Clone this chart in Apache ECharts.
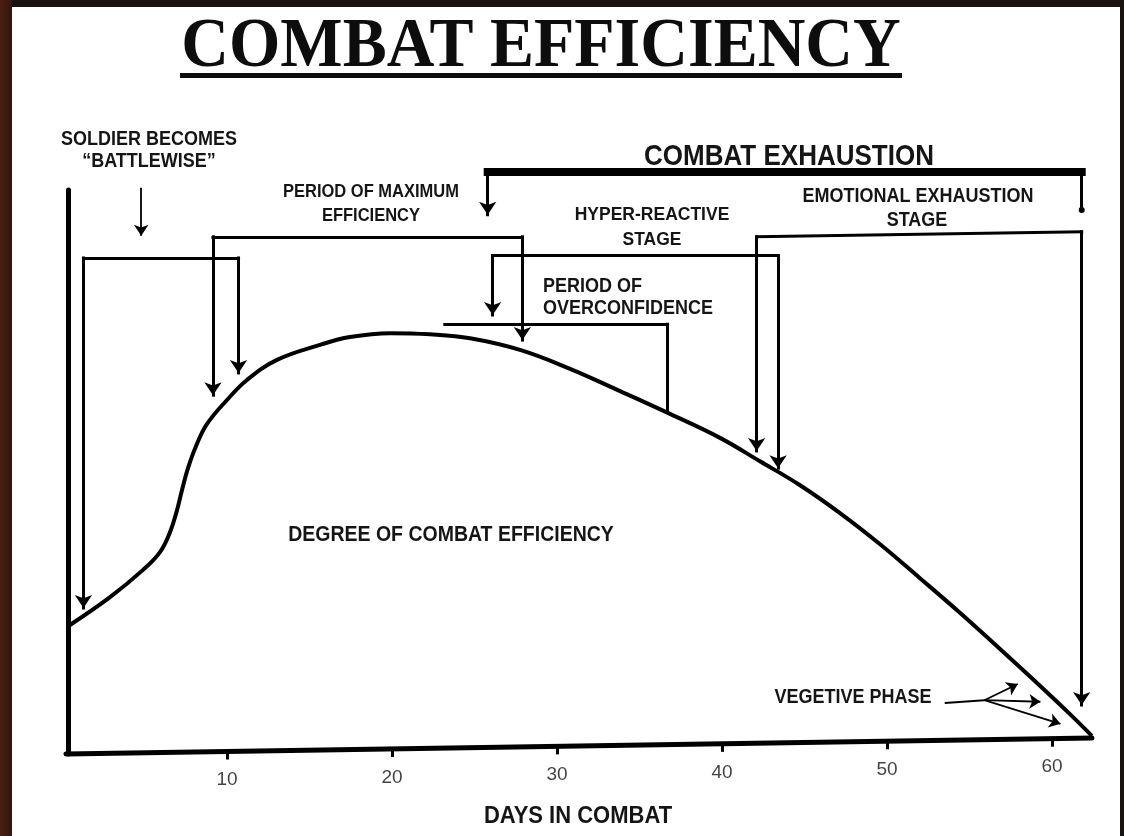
<!DOCTYPE html>
<html>
<head>
<meta charset="utf-8">
<title>Combat Efficiency</title>
<script src="https://cdn.jsdelivr.net/npm/echarts@6/dist/echarts.min.js"></script>
<style>
html, body { margin: 0; padding: 0; }
body {
    width: 1124px; height: 836px; overflow: hidden;
    background: linear-gradient(to right, #4a1d12 0px, #35150d 12px, #191210 12px);
}
#sheet { position: absolute; left: 12px; top: 7px; width: 1108px; height: 829px; background: #fff; }
#chart { position: absolute; left: 0; top: 0; width: 1124px; height: 836px; }
</style>
</head>
<body>
<div id="sheet"></div>
<div id="chart"></div>
<script>
// curve: days in combat -> degree of combat efficiency (0-100)
var curveDays = [0.48, 2.91, 4.91, 5.94, 6.55, 6.97, 7.27, 7.64, 8.12, 8.79, 10.0, 11.21, 13.03, 15.64,
    17.45, 19.88, 22.3, 24.73, 27.76, 30.79, 33.82, 36.85, 39.88, 42.3, 44.73, 47.15, 49.58,
    52.0, 54.42, 56.85, 59.27, 61.09, 62.42];
var curveEfficiency = [21.9, 26.9, 31.8, 35.0, 38.6, 42.5, 46.1, 50.1, 54.0, 58.0, 62.3, 65.9, 69.5, 72.2,
    73.6, 74.3, 74.1, 73.4, 71.3, 67.9, 63.9, 59.8, 55.5, 51.3, 47.0, 42.0, 36.4,
    30.3, 24.1, 17.6, 11.0, 5.9, 2.0];
var xTicks = [10, 20, 30, 40, 50, 60];
// the printed day axis runs slightly uphill: [day, efficiency] at both ends
var dayAxis = [[0.24, -1.26], [62.42, 1.6]];

// brackets as [day, efficiency]: arrow tip, corner, corner, arrow tip
var battlewise = [[1.3, 23.7], [1.3, 87.8], [10.7, 87.8], [10.7, 65.9]];
var maxEfficiency = [[9.15, 61.9], [9.15, 91.6], [27.9, 91.6], [27.9, 71.8]];
var hyperReactive = [[26.1, 76.3], [26.1, 88.2], [43.4, 88.2], [43.4, 48.8]];
var emotional = [[42.1, 51.9], [42.1, 91.6], [61.8, 92.5], [61.8, 6.3]];
var overconfidence = [[23.2, 75.9], [36.7, 75.9], [36.7, 60.5]];
var exhaustion = [[25.8, 94.3], [25.8, 103.2], [61.8, 103.2], [61.8, 96.4]];
var battlewisePointer = [[4.8, 100.4], [4.8, 90.7]];
var vegetiveLeader = [[53.5, 7.9], [55.9, 8.4]];
var vegetiveTargets = [[58.2, 11.7], [59.6, 8.1], [60.8, 3.9]];

var X_MAX = 62.6, Y_MIN = -1.26, Y_MAX = 100;
var PX_DAY = 16.5, PX_UNIT = 5.57;

var chart = echarts.init(document.getElementById('chart'));

// pull an arrow end back so the arrow tip (not its centre) lands on the point
function pullBack(from, to, px) {
    var dx = (to[0] - from[0]) * PX_DAY, dy = (to[1] - from[1]) * PX_UNIT;
    var len = Math.sqrt(dx * dx + dy * dy) || 1;
    return [to[0] - dx / len * px / PX_DAY, to[1] - dy / len * px / PX_UNIT];
}
function axisAt(d) {
    var a = dayAxis[0], b = dayAxis[1];
    return a[1] + (b[1] - a[1]) * (d - a[0]) / (b[0] - a[0]);
}

var plainSegs = [], arrowSegs = [], thinArrowSegs = [];
[battlewise, maxEfficiency, hyperReactive, emotional].forEach(function (b) {
    arrowSegs.push({coords: [b[1], pullBack(b[1], b[0], 7)]});
    arrowSegs.push({coords: [b[2], pullBack(b[2], b[3], 7)]});
    plainSegs.push({coords: [b[1], b[2]]});
});
plainSegs.push({coords: [overconfidence[0], overconfidence[1]]});
plainSegs.push({coords: [overconfidence[1], overconfidence[2]]});
arrowSegs.push({coords: [exhaustion[1], pullBack(exhaustion[1], exhaustion[0], 7)]});

thinArrowSegs.push({coords: [battlewisePointer[0], pullBack(battlewisePointer[0], battlewisePointer[1], 6)]});
vegetiveTargets.forEach(function (t) {
    thinArrowSegs.push({coords: [vegetiveLeader[1], pullBack(vegetiveLeader[1], t, 5)]});
});

var tickSegs = xTicks.map(function (t) {
    return {coords: [[t, axisAt(t)], [t, axisAt(t) - 8 / PX_UNIT]]};
});
var tickLabels = xTicks.map(function (t) { return [t, axisAt(t)]; });

var FONT = '"Liberation Sans", Arial, sans-serif';
function label(text, x, y, size, align) {
    return {
        type: 'text', x: x, y: y, z: 100, scaleY: 1.1,
        style: {
            text: text, fill: '#151515',
            font: 'bold ' + size + 'px ' + FONT,
            textAlign: align || 'center', textVerticalAlign: 'middle'
        }
    };
}
function segs(data, width, symbol, size, cap) {
    return {
        type: 'lines', coordinateSystem: 'cartesian2d', clip: false, silent: true,
        symbol: symbol || ['none', 'none'], symbolSize: size || 0, data: data,
        lineStyle: {color: '#000', width: width, opacity: 1, cap: cap || 'butt'}
    };
}

var option = {
    animation: false,
    backgroundColor: 'transparent',
    grid: {left: 62, right: 1124 - 62 - X_MAX * PX_DAY, top: 190, bottom: 836 - 190 - (Y_MAX - Y_MIN) * PX_UNIT},
    xAxis: {
        type: 'value', min: 0, max: X_MAX,
        splitLine: {show: false}, axisLine: {show: false},
        axisTick: {show: false}, axisLabel: {show: false}
    },
    yAxis: {
        type: 'value', min: Y_MIN, max: Y_MAX, offset: -6,
        splitLine: {show: false},
        axisLine: {show: true, lineStyle: {color: '#000', width: 5}},
        axisTick: {show: false},
        axisLabel: {show: false}
    },
    graphic: [
        {
            type: 'text', x: 541, y: 48, scaleY: 1.06, z: 100,
            style: {
                text: 'COMBAT EFFICIENCY', fill: '#0d0d0d',
                font: 'bold 66px "Liberation Serif", "Times New Roman", serif',
                textAlign: 'center', textVerticalAlign: 'middle'
            }
        },
        {type: 'rect', z: 100, shape: {x: 180, y: 73, width: 722, height: 5}, style: {fill: '#0d0d0d'}},
        label('SOLDIER BECOMES', 149, 140, 18),
        label('\u201cBATTLEWISE\u201d', 149, 162, 18),
        label('PERIOD OF MAXIMUM', 371, 192, 16.5),
        label('EFFICIENCY', 371, 216, 16.5),
        label('COMBAT EXHAUSTION', 789, 157, 26),
        label('HYPER-REACTIVE', 652, 215, 17.5),
        label('STAGE', 652, 240, 17.5),
        label('EMOTIONAL EXHAUSTION', 918, 197, 18),
        label('STAGE', 917, 221, 18),
        label('PERIOD OF', 543, 287, 18, 'left'),
        label('OVERCONFIDENCE', 543, 309, 18, 'left'),
        label('DEGREE OF COMBAT EFFICIENCY', 451, 535, 19.5),
        label('VEGETIVE PHASE', 853, 698, 18),
        label('DAYS IN COMBAT', 578, 816, 22)
    ],
    series: [
        {
            name: 'Combat efficiency', type: 'line', smooth: 0.4, symbol: 'none',
            data: curveDays.map(function (d, i) { return [d, curveEfficiency[i]]; }),
            lineStyle: {color: '#000', width: 4, join: 'round'}
        },
        segs([{coords: dayAxis}], 5, null, 0, 'round'),
        segs(tickSegs, 3),
        {
            type: 'scatter', symbolSize: 0, silent: true, data: tickLabels,
            label: {
                show: true, position: 'bottom', distance: 19,
                color: '#111', fontSize: 19, fontFamily: FONT,
                formatter: function (p) { return String(p.value[0]); }
            }
        },
        segs(plainSegs, 3, null, 0, 'square'),
        segs(arrowSegs, 3, ['none', 'arrow'], 13, 'square'),
        segs([{coords: [exhaustion[1], exhaustion[2]]}], 8, null, 0, 'square'),
        segs([{coords: [exhaustion[2], exhaustion[3]]}], 3, ['none', 'circle'], 6),
        segs(thinArrowSegs, 1.8, ['none', 'arrow'], 11),
        segs([{coords: vegetiveLeader}], 2)
    ]
};
chart.setOption(option);
</script>
</body>
</html>
